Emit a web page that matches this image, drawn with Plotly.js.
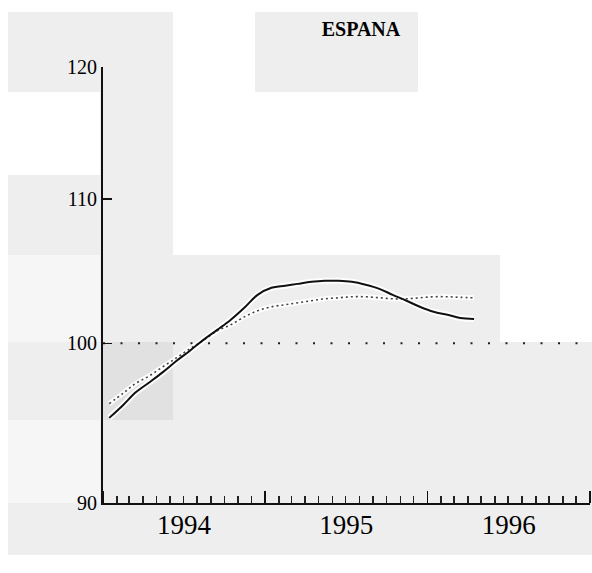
<!DOCTYPE html>
<html><head><meta charset="utf-8">
<script src="https://cdn.plot.ly/plotly-3.0.1.min.js"></script>
<style>html,body{margin:0;padding:0;background:#fff}</style>
</head><body><div id="chart" style="width:592px;height:573px"></div>
<script>
const months = ['1994-01-15','1994-02-15','1994-03-15','1994-04-15','1994-05-15','1994-06-15','1994-07-15','1994-08-15','1994-09-15','1994-10-15','1994-11-15','1994-12-15',
  '1995-01-15','1995-02-15','1995-03-15','1995-04-15','1995-05-15','1995-06-15','1995-07-15','1995-08-15','1995-09-15','1995-10-15','1995-11-15','1995-12-15',
  '1996-01-15','1996-02-15','1996-03-15','1996-04-15'];
const seriesSolid = [95.2,96.0,96.8,97.45,98.1,98.84,99.5,100.23,100.89,101.55,102.37,103.25,103.73,103.87,104.0,104.14,104.21,104.21,104.14,103.94,103.66,103.25,102.85,102.44,102.10,101.90,101.69,101.62];
const seriesDotted = [96.1,96.75,97.38,97.87,98.45,99.04,99.63,100.2,100.83,101.22,101.76,102.17,102.44,102.58,102.71,102.85,102.98,103.05,103.12,103.12,103.05,102.98,102.98,103.05,103.12,103.12,103.08,103.05];
const baseValue = 100;
const xRange = ['1994-01-01','1997-01-01'];
const yTicks = [90,100,110,120];
const chartTitle = 'ESPANA';

// layout geometry (pixels)
const L = 103, R = 590, T = 67, B = 503;
const px = x => (x - L) / (R - L);
const py = y => (B - y) / (B - T);
function rect(x0, y0, x1, y1, c) {
  return {type:'rect', xref:'paper', yref:'paper', x0:px(x0), x1:px(x1), y0:py(y1), y1:py(y0),
          fillcolor:c, line:{width:0}, layer:'below'};
}
const shapes = [
  rect(8,12,173,92,'#eeeeee'),
  rect(255,12,418,92,'#eeeeee'),
  rect(100,92,173,255,'#eeeeee'),
  rect(8,175,100,255,'#eeeeee'),
  rect(8,255,100,342,'#f6f6f6'),
  rect(100,255,500,342,'#eeeeee'),
  rect(8,342,592,555,'#eeeeee'),
  rect(8,420,100,503,'#f6f6f6'),
  rect(103,342,173,420,'#e1e1e1')
];

const traces = [
  {x: xRange, y: [baseValue, baseValue], mode:'lines', line:{color:'#222', width:2, dash:'2px,15.5px'}, hoverinfo:'skip'},
  {x: months, y: seriesDotted, mode:'lines', line:{color:'#ffffff', width:5, shape:'spline'}, opacity:0.9, hoverinfo:'skip'},
  {x: months, y: seriesSolid, mode:'lines', line:{color:'#ffffff', width:6, shape:'spline'}, opacity:0.9, hoverinfo:'skip'},
  {x: months, y: seriesDotted, mode:'lines', line:{color:'#444', width:1.6, dash:'2px,3px', shape:'spline'}},
  {x: months, y: seriesSolid, mode:'lines', line:{color:'#111', width:2, shape:'spline'}}
];

const layout = {
  width:592, height:573,
  margin:{l:L, r:592-R, t:T, b:573-B},
  paper_bgcolor:'#ffffff', plot_bgcolor:'rgba(0,0,0,0)',
  showlegend:false,
  shapes: shapes,
  title:{text:chartTitle, xref:'container', yref:'container', x:361/592, y:1-29/573, xanchor:'center', yanchor:'middle',
         font:{family:'Liberation Serif', size:20, color:'#000', weight:'bold'}},
  xaxis:{type:'date', range:xRange, showgrid:false, zeroline:false,
         showline:true, linecolor:'#111', linewidth:2,
         tick0:'1994-01-01', dtick:'M12', tickformat:'%Y', ticklabelmode:'period',
         ticks:'inside', ticklen:12, tickwidth:1.5, tickcolor:'#111',
         ticklabelstandoff:-3,
         minor:{dtick:'M1', ticks:'inside', ticklen:7, tickwidth:1.5, tickcolor:'#222', showgrid:false},
         tickfont:{family:'Liberation Serif', size:27, color:'#000'}},
  yaxis:{type:'log', range:[Math.log10(90), Math.log10(120)], showgrid:false, zeroline:false,
         showline:true, linecolor:'#111', linewidth:2,
         tickmode:'array', tickvals:yTicks, ticktext:yTicks.map(String),
         ticks:'inside', ticklen:9, tickwidth:1.5, tickcolor:'#111',
         tickfont:{family:'Liberation Serif', size:20, color:'#000'}}
};
Plotly.newPlot('chart', traces, layout, {displayModeBar:false, staticPlot:true});
</script></body></html>
